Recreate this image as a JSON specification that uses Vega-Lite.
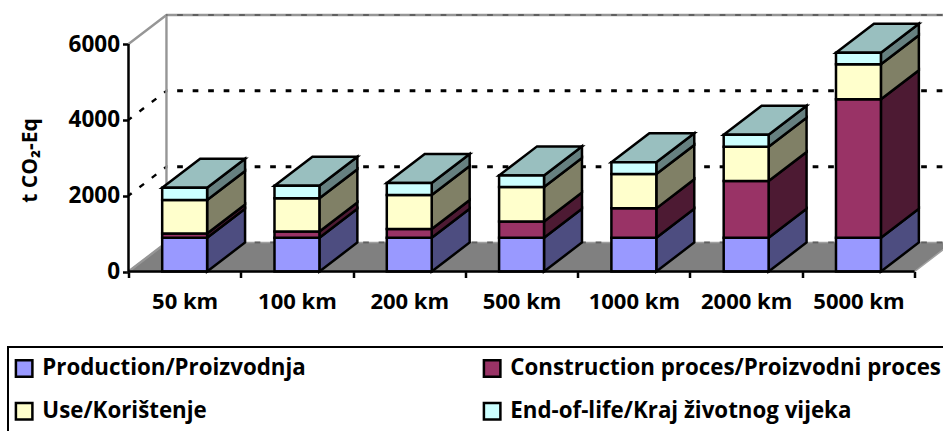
{
 "$schema":"https://vega.github.io/schema/vega-lite/v6.json",
 "autosize":{"type":"none"},
 "padding":{"left":128.5,"top":15,"right":0,"bottom":159.5},
 "width":814.5,
 "height":256.5,
 "background":"white",
 "config":{"view":{"stroke":null},"font":"Open Sans","legend":{"strokeWidth":2}},
 "datasets":{
  "bars":[
   {"distance":"50 km","pos":0,"component":"Production/Proizvodnja","layer":0,"value":890},
   {"distance":"50 km","pos":0,"component":"Construction proces/Proizvodni proces","layer":1,"value":110},
   {"distance":"50 km","pos":0,"component":"Use/Korištenje","layer":2,"value":885},
   {"distance":"50 km","pos":0,"component":"End-of-life/Kraj životnog vijeka","layer":3,"value":325},
   {"distance":"100 km","pos":1,"component":"Production/Proizvodnja","layer":0,"value":890},
   {"distance":"100 km","pos":1,"component":"Construction proces/Proizvodni proces","layer":1,"value":165},
   {"distance":"100 km","pos":1,"component":"Use/Korištenje","layer":2,"value":875},
   {"distance":"100 km","pos":1,"component":"End-of-life/Kraj životnog vijeka","layer":3,"value":330},
   {"distance":"200 km","pos":2,"component":"Production/Proizvodnja","layer":0,"value":890},
   {"distance":"200 km","pos":2,"component":"Construction proces/Proizvodni proces","layer":1,"value":230},
   {"distance":"200 km","pos":2,"component":"Use/Korištenje","layer":2,"value":895},
   {"distance":"200 km","pos":2,"component":"End-of-life/Kraj životnog vijeka","layer":3,"value":320},
   {"distance":"500 km","pos":3,"component":"Production/Proizvodnja","layer":0,"value":890},
   {"distance":"500 km","pos":3,"component":"Construction proces/Proizvodni proces","layer":1,"value":430},
   {"distance":"500 km","pos":3,"component":"Use/Korištenje","layer":2,"value":910},
   {"distance":"500 km","pos":3,"component":"End-of-life/Kraj životnog vijeka","layer":3,"value":305},
   {"distance":"1000 km","pos":4,"component":"Production/Proizvodnja","layer":0,"value":890},
   {"distance":"1000 km","pos":4,"component":"Construction proces/Proizvodni proces","layer":1,"value":775},
   {"distance":"1000 km","pos":4,"component":"Use/Korištenje","layer":2,"value":905},
   {"distance":"1000 km","pos":4,"component":"End-of-life/Kraj životnog vijeka","layer":3,"value":310},
   {"distance":"2000 km","pos":5,"component":"Production/Proizvodnja","layer":0,"value":890},
   {"distance":"2000 km","pos":5,"component":"Construction proces/Proizvodni proces","layer":1,"value":1495},
   {"distance":"2000 km","pos":5,"component":"Use/Korištenje","layer":2,"value":905},
   {"distance":"2000 km","pos":5,"component":"End-of-life/Kraj životnog vijeka","layer":3,"value":315},
   {"distance":"5000 km","pos":6,"component":"Production/Proizvodnja","layer":0,"value":890},
   {"distance":"5000 km","pos":6,"component":"Construction proces/Proizvodni proces","layer":1,"value":3650},
   {"distance":"5000 km","pos":6,"component":"Use/Korištenje","layer":2,"value":925},
   {"distance":"5000 km","pos":6,"component":"End-of-life/Kraj životnog vijeka","layer":3,"value":305}
  ],
  "floor":[{"a":0,"b":0,"c":7},{"a":765,"b":0.338,"c":7.338}],
  "gridDiag":[
   {"v":2000,"px":0,"yy":2000},{"v":2000,"px":0.338,"yy":2765},
   {"v":4000,"px":0,"yy":4000},{"v":4000,"px":0.338,"yy":4765}
  ],
  "gridBack":[
   {"v":2000,"px":0.338,"yy":2765},{"v":2000,"px":7.338,"yy":2765},
   {"v":4000,"px":0.338,"yy":4765},{"v":4000,"px":7.338,"yy":4765}
  ],
  "edgeBack":[
   {"v":0,"px":0.338,"yy":765},{"v":0,"px":7.338,"yy":765},
   {"v":6000,"px":0.338,"yy":6765},{"v":6000,"px":7.338,"yy":6765}
  ],
  "wall":[
   {"id":"a","px":0,"py":6000},{"id":"a","px":0.338,"py":6765},{"id":"a","px":7.338,"py":6765},
   {"id":"b","px":0.338,"py":765},{"id":"b","px":0.338,"py":6765},
   {"id":"c","px":0,"py":0},{"id":"c","px":0.338,"py":765}
  ],
  "frame":[
   {"id":"y","px":0,"py":6000},{"id":"y","px":0,"py":0},{"id":"y","px":7,"py":0}
  ]
 },
 "layer":[
  {
   "data":{"name":"floor"},
   "mark":{"type":"area","orient":"horizontal","fill":"#808080","stroke":"#a0a0a0","strokeWidth":1.5},
   "encoding":{
    "y":{"field":"a","type":"quantitative","scale":{"domain":[0,6765],"nice":false,"zero":false},
     "axis":{"title":"t CO₂-Eq","titleFont":"Open Sans","titleFontSize":21,"titleFontWeight":"bold","titleColor":"black","titlePadding":28,
      "values":[0,2000,4000,6000],"domain":false,"grid":false,"tickColor":"black","tickWidth":2.5,"tickSize":6,"labelPadding":3,
      "labelFont":"Open Sans","labelFontSize":22.5,"labelFontWeight":"bold","labelColor":"black","format":"d","titleY":145}},
    "x":{"field":"b","type":"quantitative","scale":{"domain":[0,7.2529],"nice":false,"zero":false},
     "axis":{"title":null,"domain":false,"grid":false,"values":[0,0.5,1,1.5,2,2.5,3,3.5,4,4.5,5,5.5,6,6.5,7],
      "labelExpr":"datum.value%1==0.5 ? ['50 km','100 km','200 km','500 km','1000 km','2000 km','5000 km'][floor(datum.value)] : ''",
      "tickColor":"black","tickWidth":2.5,"tickSize":6,"tickOpacity":{"condition":{"test":"datum.value%1==0","value":1},"value":0},
      "labelPadding":14,"labelFont":"Open Sans","labelFontSize":22,"labelFontWeight":"bold","labelColor":"black","labelOverlap":false,"labelBound":false,"labelFlush":false}},
    "x2":{"field":"c"}
   }
  },
  {
   "data":{"name":"gridDiag"},
   "mark":{"type":"line","color":"black","strokeWidth":2.4,"strokeDash":[5.7,9.8],"strokeDashOffset":1.7},
   "encoding":{
    "x":{"field":"px","type":"quantitative","axis":null},
    "y":{"field":"yy","type":"quantitative","axis":null},
    "detail":{"field":"v"}
   }
  },
  {
   "data":{"name":"gridBack"},
   "mark":{"type":"line","color":"black","strokeWidth":3,"strokeDash":[5.7,9.8],"strokeDashOffset":4.8},
   "encoding":{
    "x":{"field":"px","type":"quantitative","axis":null},
    "y":{"field":"yy","type":"quantitative","axis":null},
    "detail":{"field":"v"}
   }
  },
  {
   "data":{"name":"wall"},
   "mark":{"type":"line","color":"#969696","strokeWidth":2.4},
   "encoding":{
    "x":{"field":"px","type":"quantitative","axis":null},
    "y":{"field":"py","type":"quantitative","axis":null},
    "detail":{"field":"id"}
   }
  },
  {
   "data":{"name":"edgeBack"},
   "mark":{"type":"line","color":"#606060","strokeWidth":2,"strokeDash":[5.7,9.8],"strokeDashOffset":4.8},
   "encoding":{
    "x":{"field":"px","type":"quantitative","axis":null},
    "y":{"field":"yy","type":"quantitative","axis":null},
    "detail":{"field":"v"}
   }
  },
  {
   "data":{"name":"bars"},
   "transform":[
    {"stack":"value","groupby":["distance"],"sort":[{"field":"layer"}],"as":["y0","y1"]},
    {"calculate":"[0,1]","as":"side"},
    {"flatten":["side"]},
    {"calculate":"datum.pos+0.7+datum.side*0.338","as":"sx"},
    {"calculate":"datum.y0+datum.side*765","as":"sy0"},
    {"calculate":"datum.y1+datum.side*765","as":"sy1"}
   ],
   "mark":{"type":"area","orient":"vertical","stroke":"black","strokeWidth":2.5,"strokeJoin":"miter"},
   "encoding":{
    "x":{"field":"sx","type":"quantitative","axis":null},
    "y":{"field":"sy0","type":"quantitative","axis":null},
    "y2":{"field":"sy1"},
    "detail":{"field":"distance"},
    "fill":{"field":"component","type":"nominal","legend":null,
     "scale":{"domain":["Production/Proizvodnja","Construction proces/Proizvodni proces","Use/Korištenje","End-of-life/Kraj životnog vijeka"],
      "range":["#4D4D80","#4D1A33","#808066","#668080"]}}
   }
  },
  {
   "data":{"name":"bars"},
   "transform":[
    {"stack":"value","groupby":["distance"],"sort":[{"field":"layer"}],"as":["y0","y1"]},
    {"filter":"datum.layer==3"},
    {"calculate":"[0,1]","as":"side"},
    {"flatten":["side"]},
    {"calculate":"datum.pos+0.3+datum.side*0.338","as":"tx0"},
    {"calculate":"datum.pos+0.7+datum.side*0.338","as":"tx1"},
    {"calculate":"datum.y1+datum.side*765","as":"ty"}
   ],
   "mark":{"type":"area","orient":"horizontal","fill":"#99BFBF","stroke":"black","strokeWidth":2.5,"strokeJoin":"miter"},
   "encoding":{
    "y":{"field":"ty","type":"quantitative","axis":null},
    "x":{"field":"tx0","type":"quantitative","axis":null},
    "x2":{"field":"tx1"},
    "detail":{"field":"distance"}
   }
  },
  {
   "data":{"name":"bars"},
   "transform":[
    {"stack":"value","groupby":["distance"],"sort":[{"field":"layer"}],"as":["y0","y1"]},
    {"calculate":"datum.pos+0.3","as":"fx0"},
    {"calculate":"datum.pos+0.7","as":"fx1"}
   ],
   "mark":{"type":"rect","stroke":"black","strokeWidth":2.5},
   "encoding":{
    "x":{"field":"fx0","type":"quantitative","axis":null},
    "x2":{"field":"fx1"},
    "y":{"field":"y0","type":"quantitative","axis":null},
    "y2":{"field":"y1"},
    "fill":{"field":"component","type":"nominal",
     "scale":{"domain":["Production/Proizvodnja","Construction proces/Proizvodni proces","Use/Korištenje","End-of-life/Kraj životnog vijeka"],
      "range":["#9999FF","#993366","#FFFFCC","#CCFFFF"]},
     "legend":{"orient":"none","legendX":-120.5,"legendY":332,"direction":"horizontal","columns":2,"columnPadding":172,"rowPadding":15,"padding":10,
      "title":" ","titleOrient":"bottom","titlePadding":30,"titleFontSize":10,
      "symbolType":"square","symbolSize":272,"symbolStrokeColor":"black","symbolStrokeWidth":2.5,"symbolOpacity":1,"symbolOffset":-5,"labelOffset":7,
      "labelFont":"Open Sans","labelFontSize":22.3,"labelFontWeight":"bold","labelColor":"black","labelLimit":600,"strokeColor":"black"}}
   }
  },
  {
   "data":{"name":"frame"},
   "mark":{"type":"line","color":"black","strokeWidth":2.5},
   "encoding":{
    "x":{"field":"px","type":"quantitative","axis":null},
    "y":{"field":"py","type":"quantitative","axis":null},
    "order":{"field":"px"},
    "detail":{"field":"id"}
   }
  }
 ],
 "resolve":{"scale":{"fill":"independent"},"axis":{"x":"independent","y":"independent"}}
}
